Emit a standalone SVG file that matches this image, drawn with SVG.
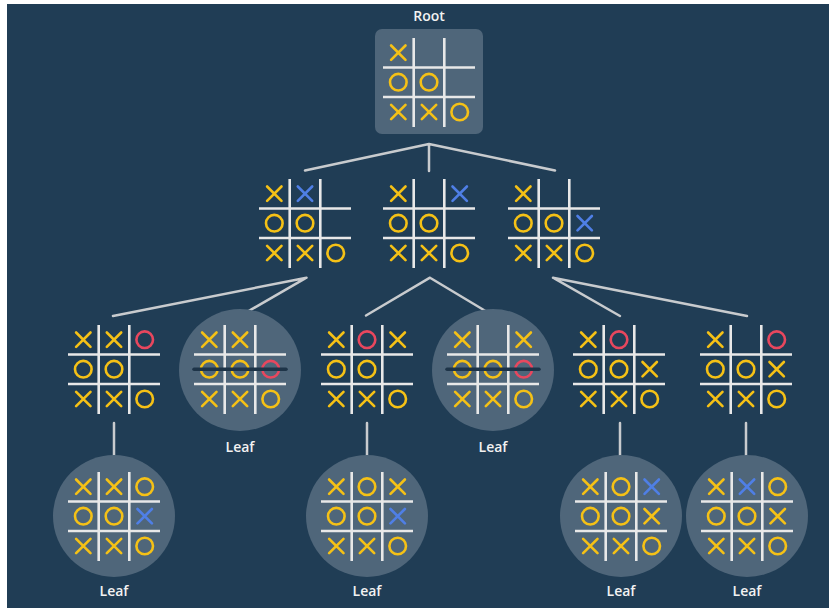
<svg xmlns="http://www.w3.org/2000/svg" xmlns:xlink="http://www.w3.org/1999/xlink" width="829" height="608" viewBox="0 0 829 608">
<style>
.bg{fill:#203d55}
.panel{fill:#4f667a}
.conn{stroke:#c8cbce;stroke-width:2.5;fill:none;stroke-linecap:round}
.gl{stroke:#e8e8e8;stroke-width:2.6;fill:none}
.y{stroke:#f5c116}
.b{stroke:#4f7fe6}
.r{stroke:#e8475e}
.strike{stroke:#1e3448;stroke-width:3.5;stroke-linecap:round}
.lbl{font-family:"Open Sans","Noto Sans","Liberation Sans",sans-serif;font-size:14px;font-weight:600;fill:#f2f2f2;text-anchor:middle}
</style>
<defs>
<g id="grid" class="gl">
<path d="M30.7,0V89M61.3,0V89M0,29.5H92M0,59H92"/>
</g>
<path id="x" d="M-7.2,-7.2L7.2,7.2M7.2,-7.2L-7.2,7.2" fill="none" stroke-width="2.6" stroke-linecap="round"/>
<circle id="o" r="8.3" fill="none" stroke-width="2.6"/>
</defs>
<rect x="0" y="0" width="829" height="608" fill="#ffffff"/>
<rect class="bg" x="7" y="4" width="822" height="604"/>

<g id="connectors">
<path class="conn" d="M429,144L305,170.5M429,144V171M429,144L555,170.5"/>
<path class="conn" d="M306.5,277.7L113,316M306.5,277.7L240,316"/>
<path class="conn" d="M430,277.7L366,315.5M430,277.7L493,315.5"/>
<path class="conn" d="M553,277.7L620,316M553,277.7L747,316"/>
<path class="conn" d="M114,423V463M367,423V463M620,423V463M746,423V463"/>
</g>

<g id="root">
<text class="lbl" x="429" y="21">Root</text>
<rect class="panel" x="375" y="29" width="108" height="105" rx="7"/>
<g transform="translate(383,38)">
<use xlink:href="#grid"/>
<use xlink:href="#x" class="y" x="15.3" y="14.7"/>
<use xlink:href="#o" class="y" x="15.3" y="44.2"/>
<use xlink:href="#o" class="y" x="46" y="44.2"/>
<use xlink:href="#x" class="y" x="15.3" y="74"/>
<use xlink:href="#x" class="y" x="46" y="74"/>
<use xlink:href="#o" class="y" x="76.7" y="74"/>
</g>
</g>

<g id="n1a" transform="translate(259,179)">
<use xlink:href="#grid"/>
<use xlink:href="#x" class="y" x="15.3" y="14.7"/>
<use xlink:href="#x" class="b" x="46" y="14.7"/>
<use xlink:href="#o" class="y" x="15.3" y="44.2"/>
<use xlink:href="#o" class="y" x="46" y="44.2"/>
<use xlink:href="#x" class="y" x="15.3" y="74"/>
<use xlink:href="#x" class="y" x="46" y="74"/>
<use xlink:href="#o" class="y" x="76.7" y="74"/>
</g>

<g id="n1b" transform="translate(383,179)">
<use xlink:href="#grid"/>
<use xlink:href="#x" class="y" x="15.3" y="14.7"/>
<use xlink:href="#x" class="b" x="76.7" y="14.7"/>
<use xlink:href="#o" class="y" x="15.3" y="44.2"/>
<use xlink:href="#o" class="y" x="46" y="44.2"/>
<use xlink:href="#x" class="y" x="15.3" y="74"/>
<use xlink:href="#x" class="y" x="46" y="74"/>
<use xlink:href="#o" class="y" x="76.7" y="74"/>
</g>

<g id="n1c" transform="translate(508,179)">
<use xlink:href="#grid"/>
<use xlink:href="#x" class="y" x="15.3" y="14.7"/>
<use xlink:href="#o" class="y" x="15.3" y="44.2"/>
<use xlink:href="#o" class="y" x="46" y="44.2"/>
<use xlink:href="#x" class="b" x="76.7" y="44.2"/>
<use xlink:href="#x" class="y" x="15.3" y="74"/>
<use xlink:href="#x" class="y" x="46" y="74"/>
<use xlink:href="#o" class="y" x="76.7" y="74"/>
</g>

<g id="n2a" transform="translate(68,325)">
<use xlink:href="#grid"/>
<use xlink:href="#x" class="y" x="15.3" y="14.7"/>
<use xlink:href="#x" class="y" x="46" y="14.7"/>
<use xlink:href="#o" class="r" x="76.7" y="14.7"/>
<use xlink:href="#o" class="y" x="15.3" y="44.2"/>
<use xlink:href="#o" class="y" x="46" y="44.2"/>
<use xlink:href="#x" class="y" x="15.3" y="74"/>
<use xlink:href="#x" class="y" x="46" y="74"/>
<use xlink:href="#o" class="y" x="76.7" y="74"/>
</g>

<g id="n2b">
<circle class="panel" cx="240" cy="370" r="61"/>
<text class="lbl" x="240" y="452">Leaf</text>
<g transform="translate(194,325)">
<use xlink:href="#grid"/>
<use xlink:href="#x" class="y" x="15.3" y="14.7"/>
<use xlink:href="#x" class="y" x="46" y="14.7"/>
<use xlink:href="#o" class="y" x="15.3" y="44.2"/>
<use xlink:href="#o" class="y" x="46" y="44.2"/>
<use xlink:href="#o" class="r" x="76.7" y="44.2"/>
<use xlink:href="#x" class="y" x="15.3" y="74"/>
<use xlink:href="#x" class="y" x="46" y="74"/>
<use xlink:href="#o" class="y" x="76.7" y="74"/>
<path class="strike" d="M0,44.2H92"/>
</g>
</g>

<g id="n2c" transform="translate(321,325)">
<use xlink:href="#grid"/>
<use xlink:href="#x" class="y" x="15.3" y="14.7"/>
<use xlink:href="#o" class="r" x="46" y="14.7"/>
<use xlink:href="#x" class="y" x="76.7" y="14.7"/>
<use xlink:href="#o" class="y" x="15.3" y="44.2"/>
<use xlink:href="#o" class="y" x="46" y="44.2"/>
<use xlink:href="#x" class="y" x="15.3" y="74"/>
<use xlink:href="#x" class="y" x="46" y="74"/>
<use xlink:href="#o" class="y" x="76.7" y="74"/>
</g>

<g id="n2d">
<circle class="panel" cx="493" cy="370" r="61"/>
<text class="lbl" x="493" y="452">Leaf</text>
<g transform="translate(447,325)">
<use xlink:href="#grid"/>
<use xlink:href="#x" class="y" x="15.3" y="14.7"/>
<use xlink:href="#x" class="y" x="76.7" y="14.7"/>
<use xlink:href="#o" class="y" x="15.3" y="44.2"/>
<use xlink:href="#o" class="y" x="46" y="44.2"/>
<use xlink:href="#o" class="r" x="76.7" y="44.2"/>
<use xlink:href="#x" class="y" x="15.3" y="74"/>
<use xlink:href="#x" class="y" x="46" y="74"/>
<use xlink:href="#o" class="y" x="76.7" y="74"/>
<path class="strike" d="M0,44.2H92"/>
</g>
</g>

<g id="n2e" transform="translate(573,325)">
<use xlink:href="#grid"/>
<use xlink:href="#x" class="y" x="15.3" y="14.7"/>
<use xlink:href="#o" class="r" x="46" y="14.7"/>
<use xlink:href="#o" class="y" x="15.3" y="44.2"/>
<use xlink:href="#o" class="y" x="46" y="44.2"/>
<use xlink:href="#x" class="y" x="76.7" y="44.2"/>
<use xlink:href="#x" class="y" x="15.3" y="74"/>
<use xlink:href="#x" class="y" x="46" y="74"/>
<use xlink:href="#o" class="y" x="76.7" y="74"/>
</g>

<g id="n2f" transform="translate(700,325)">
<use xlink:href="#grid"/>
<use xlink:href="#x" class="y" x="15.3" y="14.7"/>
<use xlink:href="#o" class="r" x="76.7" y="14.7"/>
<use xlink:href="#o" class="y" x="15.3" y="44.2"/>
<use xlink:href="#o" class="y" x="46" y="44.2"/>
<use xlink:href="#x" class="y" x="76.7" y="44.2"/>
<use xlink:href="#x" class="y" x="15.3" y="74"/>
<use xlink:href="#x" class="y" x="46" y="74"/>
<use xlink:href="#o" class="y" x="76.7" y="74"/>
</g>

<g id="n3a">
<circle class="panel" cx="114" cy="516" r="61"/>
<text class="lbl" x="114" y="596">Leaf</text>
<g transform="translate(68,472)">
<use xlink:href="#grid"/>
<use xlink:href="#x" class="y" x="15.3" y="14.7"/>
<use xlink:href="#x" class="y" x="46" y="14.7"/>
<use xlink:href="#o" class="y" x="76.7" y="14.7"/>
<use xlink:href="#o" class="y" x="15.3" y="44.2"/>
<use xlink:href="#o" class="y" x="46" y="44.2"/>
<use xlink:href="#x" class="b" x="76.7" y="44.2"/>
<use xlink:href="#x" class="y" x="15.3" y="74"/>
<use xlink:href="#x" class="y" x="46" y="74"/>
<use xlink:href="#o" class="y" x="76.7" y="74"/>
</g>
</g>

<g id="n3c">
<circle class="panel" cx="367" cy="516" r="61"/>
<text class="lbl" x="367" y="596">Leaf</text>
<g transform="translate(321,472)">
<use xlink:href="#grid"/>
<use xlink:href="#x" class="y" x="15.3" y="14.7"/>
<use xlink:href="#o" class="y" x="46" y="14.7"/>
<use xlink:href="#x" class="y" x="76.7" y="14.7"/>
<use xlink:href="#o" class="y" x="15.3" y="44.2"/>
<use xlink:href="#o" class="y" x="46" y="44.2"/>
<use xlink:href="#x" class="b" x="76.7" y="44.2"/>
<use xlink:href="#x" class="y" x="15.3" y="74"/>
<use xlink:href="#x" class="y" x="46" y="74"/>
<use xlink:href="#o" class="y" x="76.7" y="74"/>
</g>
</g>

<g id="n3e">
<circle class="panel" cx="621" cy="516" r="61"/>
<text class="lbl" x="621" y="596">Leaf</text>
<g transform="translate(575,472)">
<use xlink:href="#grid"/>
<use xlink:href="#x" class="y" x="15.3" y="14.7"/>
<use xlink:href="#o" class="y" x="46" y="14.7"/>
<use xlink:href="#x" class="b" x="76.7" y="14.7"/>
<use xlink:href="#o" class="y" x="15.3" y="44.2"/>
<use xlink:href="#o" class="y" x="46" y="44.2"/>
<use xlink:href="#x" class="y" x="76.7" y="44.2"/>
<use xlink:href="#x" class="y" x="15.3" y="74"/>
<use xlink:href="#x" class="y" x="46" y="74"/>
<use xlink:href="#o" class="y" x="76.7" y="74"/>
</g>
</g>

<g id="n3f">
<circle class="panel" cx="747" cy="516" r="61"/>
<text class="lbl" x="747" y="596">Leaf</text>
<g transform="translate(701,472)">
<use xlink:href="#grid"/>
<use xlink:href="#x" class="y" x="15.3" y="14.7"/>
<use xlink:href="#x" class="b" x="46" y="14.7"/>
<use xlink:href="#o" class="y" x="76.7" y="14.7"/>
<use xlink:href="#o" class="y" x="15.3" y="44.2"/>
<use xlink:href="#o" class="y" x="46" y="44.2"/>
<use xlink:href="#x" class="y" x="76.7" y="44.2"/>
<use xlink:href="#x" class="y" x="15.3" y="74"/>
<use xlink:href="#x" class="y" x="46" y="74"/>
<use xlink:href="#o" class="y" x="76.7" y="74"/>
</g>
</g>
</svg>
